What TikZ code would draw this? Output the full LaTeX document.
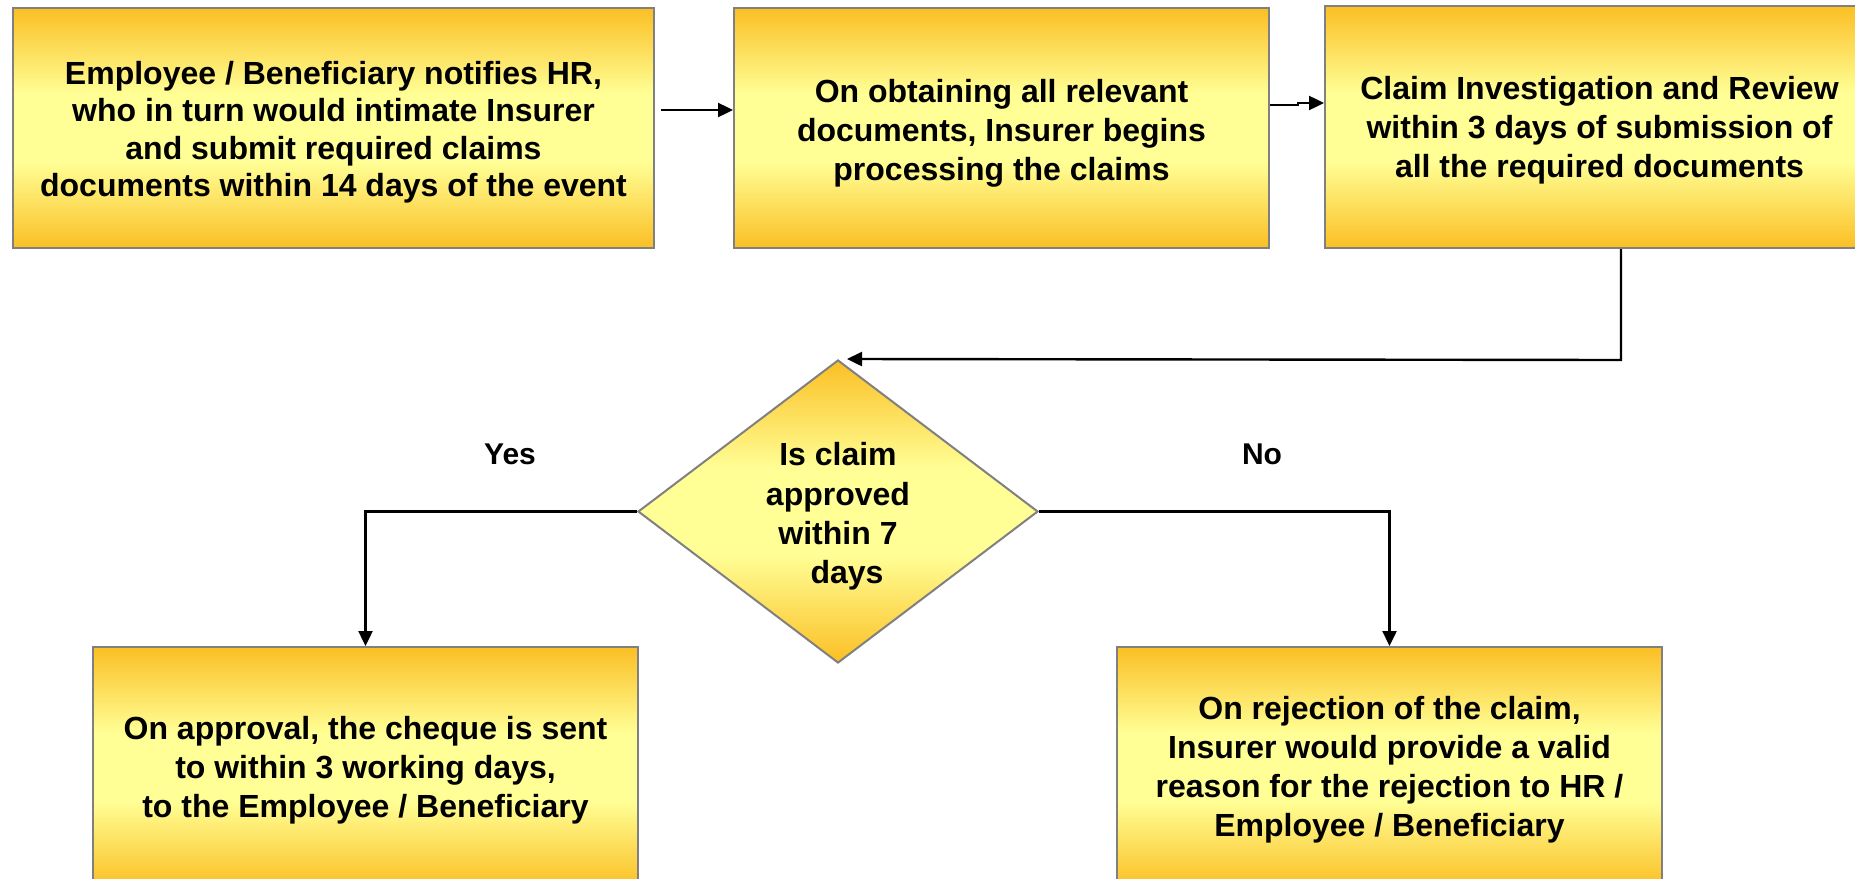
\documentclass[tikz,border=0pt]{standalone}
\usepackage{fontspec}
\setmainfont{Liberation Sans}
\usetikzlibrary{arrows.meta,shapes.geometric,calc}

\definecolor{goldedge}{RGB}{251,191,36}
\definecolor{goldpale}{RGB}{255,255,150}
\definecolor{boxline}{RGB}{128,128,128}

% orange at top and bottom edges, pale yellow band in the middle
\pgfdeclareverticalshading{goldband}{100bp}{color(0bp)=(goldedge); color(25bp)=(goldedge); color(43bp)=(goldpale); color(57bp)=(goldpale); color(75bp)=(goldedge); color(100bp)=(goldedge)}

\tikzset{
  stepbox/.style={rectangle, draw=boxline, line width=2pt, shading=goldband, inner sep=0pt},
  decision/.style={diamond, draw=boxline, line width=2pt, shading=goldband,
    aspect=1.32, inner sep=0pt, minimum width=400pt, minimum height=303pt},
  boxtext/.style={align=center, inner sep=0pt, font=\bfseries\fontsize{32}{39}\selectfont},
  arr/.style={line width=2.4pt, -{Triangle[length=15pt,width=14pt]}},
  branchlabel/.style={font=\bfseries\fontsize{30}{36}\selectfont}
}

\begin{document}
\begin{tikzpicture}[x=1pt,y=-1pt]
  \useasboundingbox (0,0) rectangle (1855,878);
  \fill[white] (0,0) rectangle (1855,878);
  \clip (0,0) rectangle (1855,878);

  % top row
  \node[stepbox, minimum width=641pt, minimum height=240pt] (b1) at (333.5,128) {};
  \node[boxtext, font=\bfseries\fontsize{32}{37.5}\selectfont] (b1t) at ($(b1)+(0,4)$)
    {Employee / Beneficiary notifies HR,\\who in turn would intimate Insurer\\and submit required claims\\documents within 14 days of the event};
  \node[stepbox, minimum width=535pt, minimum height=240pt] (b2) at (1001.5,128) {};
  \node[boxtext] (b2t) at ($(b2)+(0,5)$)
    {On obtaining all relevant\\documents, Insurer begins\\processing the claims};
  \node[stepbox, minimum width=549pt, minimum height=242pt] (b3) at (1599.5,127) {};
  \node[boxtext] (b3t) at ($(b3)+(0,3)$)
    {Claim Investigation and Review\\within 3 days of submission of\\all the required documents};

  % decision
  \node[decision] (dia) at (838,511.5) {};
  \node[boxtext, font=\bfseries\fontsize{32}{39.3}\selectfont] (diat) at ($(dia)+(0,5)$)
    {Is claim\\approved\\within 7\\\hspace*{18pt}days};

  % outcomes
  \node[stepbox, minimum width=545pt, minimum height=240pt] (b4) at (365.5,767) {};
  \node[boxtext] (b4t) at ($(b4)+(0,3)$)
    {On approval, the cheque is sent\\to within 3 working days,\\to the Employee / Beneficiary};
  \node[stepbox, minimum width=545pt, minimum height=240pt] (b5) at (1389.5,767) {};
  \node[boxtext] (b5t) at ($(b5)+(0,3)$)
    {On rejection of the claim,\\Insurer would provide a valid\\reason for the rejection to HR /\\Employee / Beneficiary};

  \node[branchlabel] (yes) at (510,454) {Yes};
  \node[branchlabel] (no) at (1262,454) {No};

  % connectors
  \draw[arr] ($(b1.east |- 0,110)+(6,0)$) -- (b2.west |- 0,110);
  \draw[arr] (b2.east |- 0,105) -- (1298,105) -- (1298,103) -- (b3.west |- 0,103);
  \draw[arr] (b3.south -| 1621,0) -- (1621,360) -- ($(dia.north)+(9,0)$);
  \draw[arr] (dia.west) -| (b4.north);
  \draw[arr] (dia.east) -| (b5.north);
\end{tikzpicture}
\end{document}
